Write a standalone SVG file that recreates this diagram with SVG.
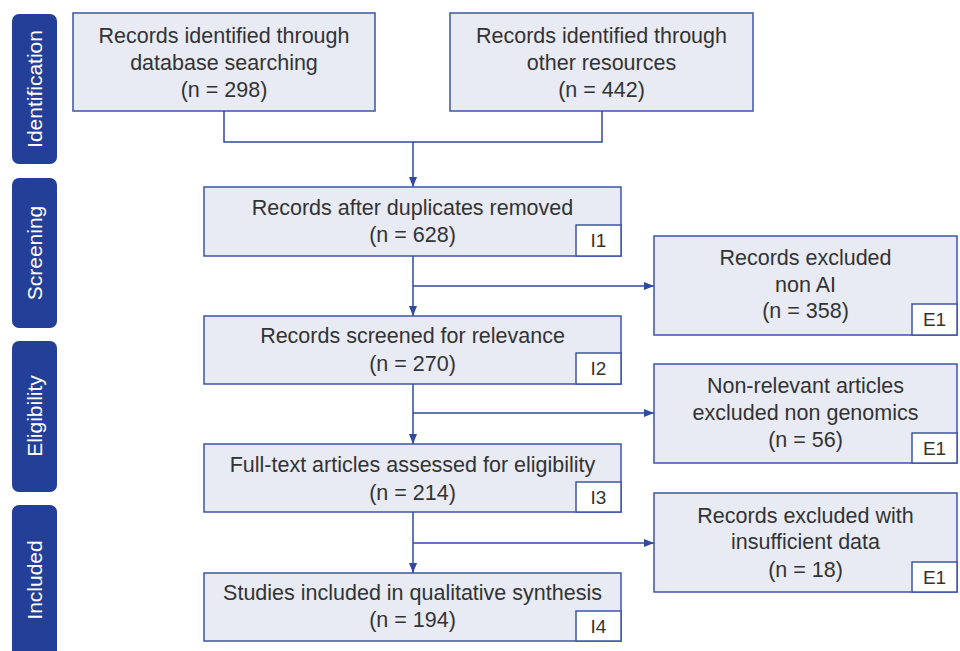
<svg xmlns="http://www.w3.org/2000/svg" width="960" height="651" viewBox="0 0 960 651">
<defs>
<style>
.bar{fill:#233f97;}
.bt{fill:#ffffff;font-family:"Liberation Sans",Arial,sans-serif;font-size:21px;text-anchor:middle;}
.box{fill:#e8eaf4;stroke:#3c55a6;stroke-width:1.5;}
.tag{fill:#ffffff;stroke:#3c55a6;stroke-width:1.5;}
.t{fill:#333333;font-family:"Liberation Sans",Arial,sans-serif;font-size:21.5px;text-anchor:middle;}
.tt{fill:#333333;font-family:"Liberation Sans",Arial,sans-serif;font-size:19px;text-anchor:middle;}
.c{fill:none;stroke:#2f4aa0;stroke-width:1.5;}
</style>
<marker id="ah" viewBox="0 0 10 10" refX="10" refY="5" markerWidth="10" markerHeight="10" markerUnits="userSpaceOnUse" orient="auto">
<path d="M0,1 L10,5 L0,9 Z" fill="#2f4aa0"/>
</marker>
</defs>
<rect width="960" height="651" fill="#ffffff"/>
<g id="phase-identification"><rect class="bar" x="12" y="14" width="45" height="150" rx="7"/><text class="bt" transform="translate(42,89) rotate(-90)">Identification</text></g>
<g id="phase-screening"><rect class="bar" x="12" y="178" width="45" height="150" rx="7"/><text class="bt" transform="translate(42,253) rotate(-90)">Screening</text></g>
<g id="phase-eligibility"><rect class="bar" x="12" y="341" width="45" height="151" rx="7"/><text class="bt" transform="translate(42,416) rotate(-90)">Eligibility</text></g>
<g id="phase-included"><rect class="bar" x="12" y="505" width="45" height="155" rx="7"/><text class="bt" transform="translate(42,580) rotate(-90)">Included</text></g>

<g id="connectors">
<path class="c" d="M224,111 V142 H602 V111"/>
<path class="c" d="M413,142 V187" marker-end="url(#ah)"/>
<path class="c" d="M413,256 V316" marker-end="url(#ah)"/>
<path class="c" d="M413,286 H654" marker-end="url(#ah)"/>
<path class="c" d="M413,384 V444" marker-end="url(#ah)"/>
<path class="c" d="M413,413 H654" marker-end="url(#ah)"/>
<path class="c" d="M413,512 V573" marker-end="url(#ah)"/>
<path class="c" d="M413,543 H654" marker-end="url(#ah)"/>
</g>

<g id="db-search"><rect class="box" x="73" y="13" width="302" height="98"/>
<text class="t" x="224" y="43">Records identified through</text>
<text class="t" x="224" y="70">database searching</text>
<text class="t" x="224" y="97">(n = 298)</text></g>

<g id="other-resources"><rect class="box" x="450" y="13" width="303" height="98"/>
<text class="t" x="601.5" y="43">Records identified through</text>
<text class="t" x="601.5" y="70">other resources</text>
<text class="t" x="601.5" y="97">(n = 442)</text></g>

<g id="after-duplicates"><rect class="box" x="204" y="187" width="417" height="69"/>
<text class="t" x="412.5" y="215">Records after duplicates removed</text>
<text class="t" x="412.5" y="242">(n = 628)</text>
<rect class="tag" x="576" y="225" width="45" height="31"/><text class="tt" x="598.5" y="247">I1</text></g>

<g id="screened"><rect class="box" x="204" y="316" width="417" height="68"/>
<text class="t" x="412.5" y="343">Records screened for relevance</text>
<text class="t" x="412.5" y="371">(n = 270)</text>
<rect class="tag" x="576" y="353" width="45" height="31"/><text class="tt" x="598.5" y="375">I2</text></g>

<g id="full-text"><rect class="box" x="204" y="444" width="417" height="68"/>
<text class="t" x="412.5" y="472">Full-text articles assessed for eligibility</text>
<text class="t" x="412.5" y="500">(n = 214)</text>
<rect class="tag" x="576" y="482" width="45" height="30"/><text class="tt" x="598.5" y="504">I3</text></g>

<g id="included"><rect class="box" x="204" y="573" width="417" height="68"/>
<text class="t" x="412.5" y="600">Studies included in qualitative synthesis</text>
<text class="t" x="412.5" y="627">(n = 194)</text>
<rect class="tag" x="576" y="611" width="45" height="30"/><text class="tt" x="598.5" y="633">I4</text></g>

<g id="excluded-non-ai"><rect class="box" x="654" y="236" width="303" height="99"/>
<text class="t" x="805.5" y="265">Records excluded</text>
<text class="t" x="805.5" y="292">non AI</text>
<text class="t" x="805.5" y="318">(n = 358)</text>
<rect class="tag" x="912" y="304" width="45" height="31"/><text class="tt" x="934.5" y="326">E1</text></g>

<g id="excluded-non-genomics"><rect class="box" x="654" y="364" width="303" height="99"/>
<text class="t" x="805.5" y="393">Non-relevant articles</text>
<text class="t" x="805.5" y="420">excluded non genomics</text>
<text class="t" x="805.5" y="447">(n = 56)</text>
<rect class="tag" x="912" y="433" width="45" height="30"/><text class="tt" x="934.5" y="455">E1</text></g>

<g id="excluded-insufficient"><rect class="box" x="654" y="493" width="303" height="99"/>
<text class="t" x="805.5" y="523">Records excluded with</text>
<text class="t" x="805.5" y="549">insufficient data</text>
<text class="t" x="805.5" y="577">(n = 18)</text>
<rect class="tag" x="912" y="562" width="45" height="30"/><text class="tt" x="934.5" y="584">E1</text></g>
</svg>
